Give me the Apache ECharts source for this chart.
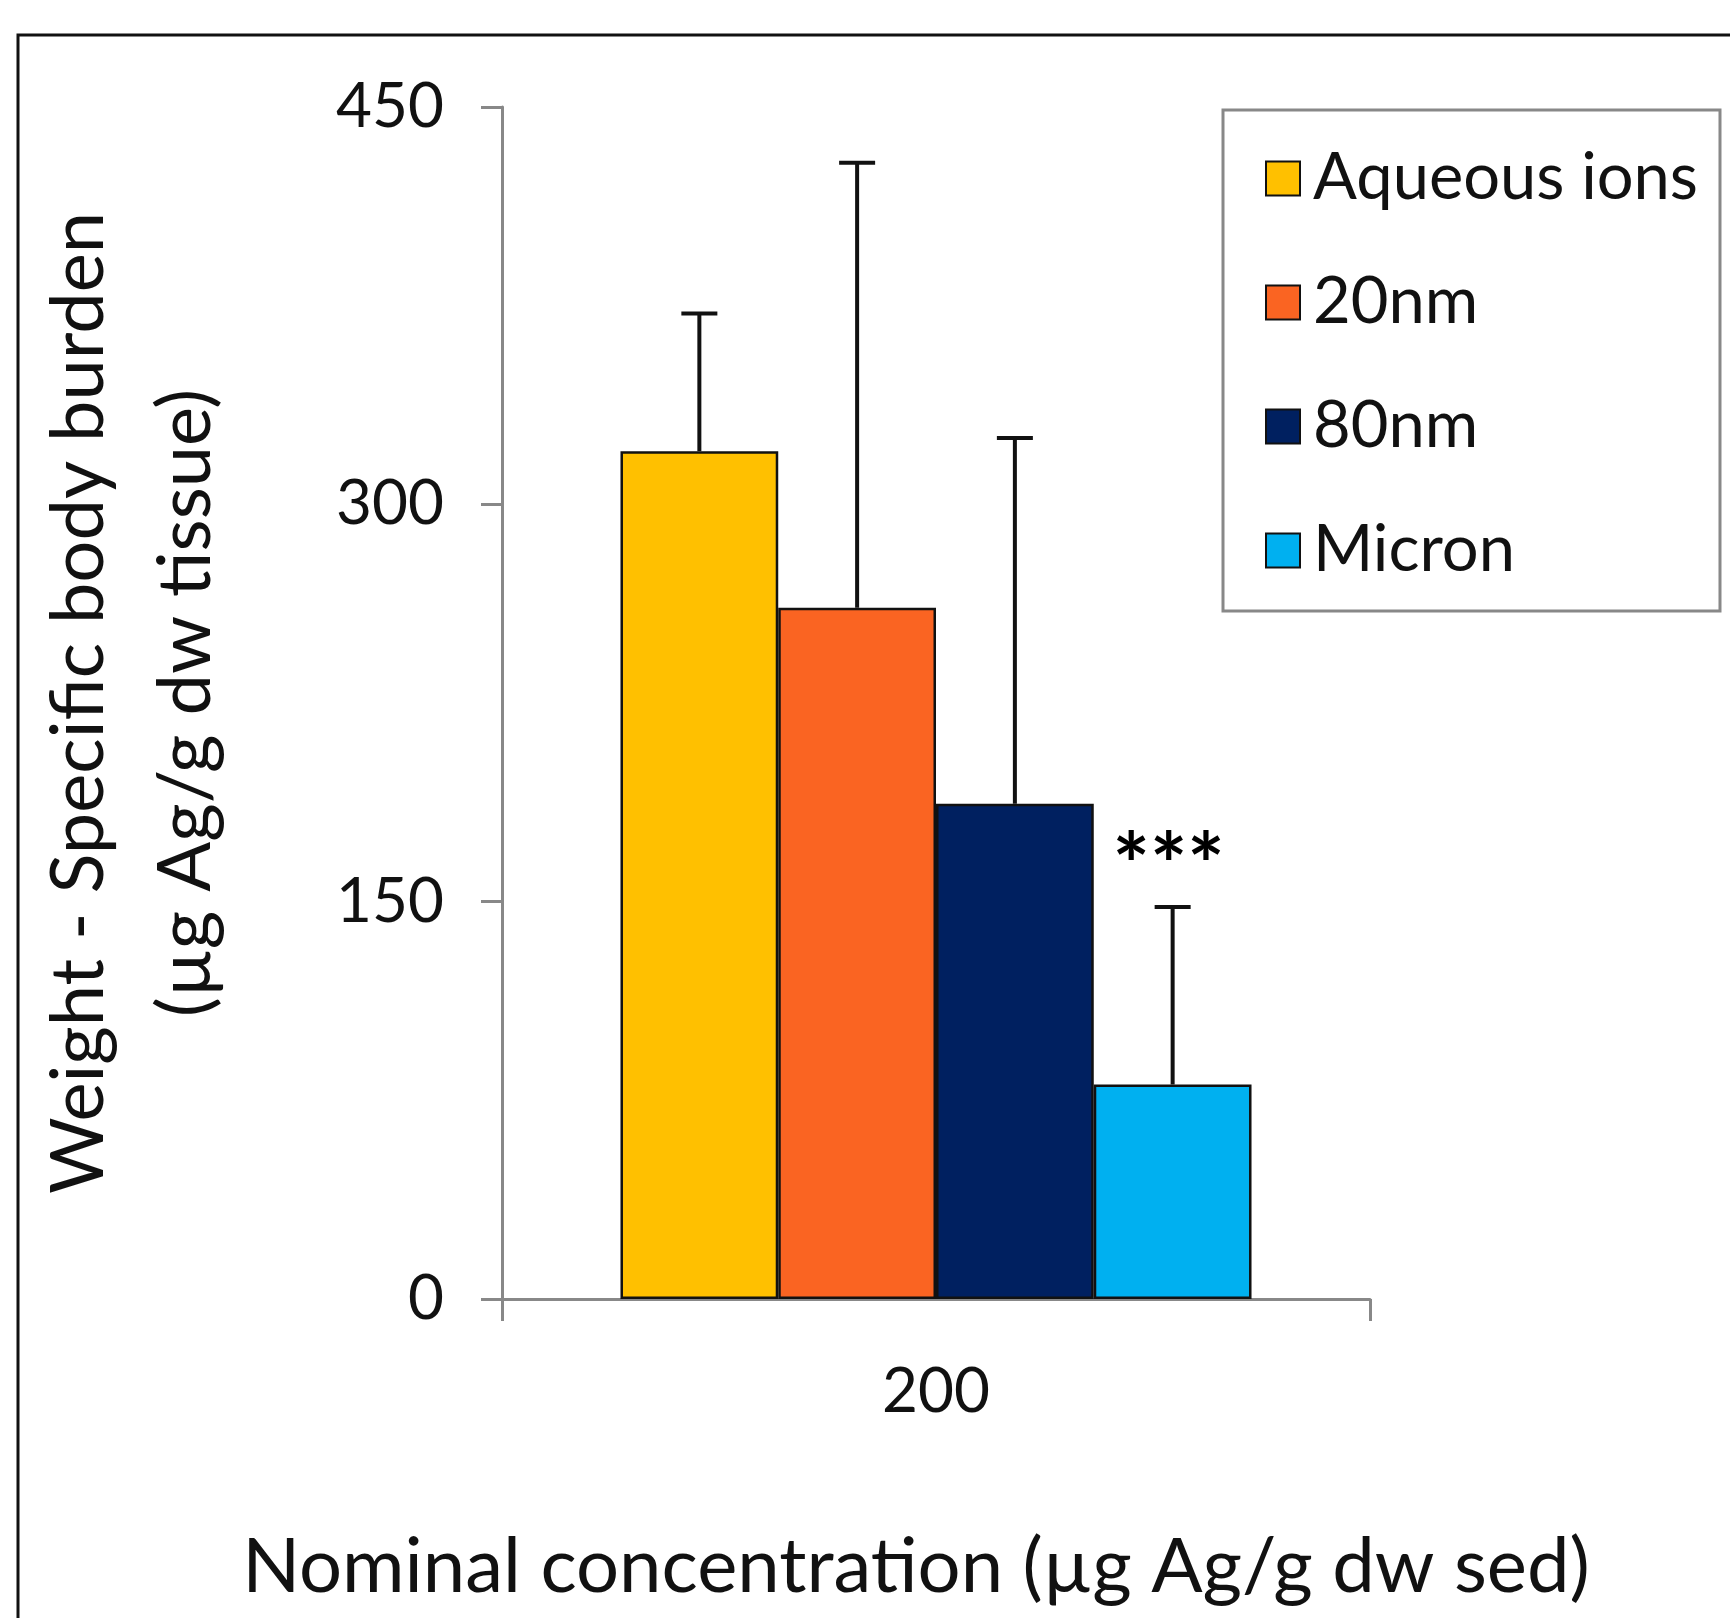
<!DOCTYPE html>
<html>
<head>
<meta charset="utf-8">
<script src="https://cdn.jsdelivr.net/npm/echarts@6/dist/echarts.min.js"></script>
<style>
html,body{margin:0;padding:0;background:#fff;}
#chart{width:1730px;height:1618px;}
</style>
</head>
<body>
<div id="chart"></div>
<script>
var categories = ['200'];
var seriesNames = ['Aqueous ions', '20nm', '80nm', 'Micron'];
var seriesColors = ['#FFC000', '#FA6422', '#002060', '#00B0F0'];
var meanValues = [320, 261, 187, 81];
var errorTops = [372, 429, 325, 148];
var annotations = ['', '', '', '***'];
var yTicks = [0, 150, 300, 450];

var FONT = 'Lato';
var BAR_CAT_GAP = 0.273;

var chart = echarts.init(document.getElementById('chart'), null, {renderer: 'canvas'});

var barSeries = seriesNames.map(function (name, i) {
  return {
    name: name,
    type: 'bar',
    barGap: '0%',
    barCategoryGap: (BAR_CAT_GAP * 100) + '%',
    data: [meanValues[i]],
    itemStyle: {color: seriesColors[i], borderColor: '#111', borderWidth: 2.5},
    emphasis: {disabled: true},
    z: 2
  };
});

var errData = seriesNames.map(function (n, i) {
  return [0, meanValues[i], errorTops[i], i];
});

var errSeries = {
  type: 'custom',
  name: 'error',
  data: errData,
  encode: {x: 0, y: 1},
  z: 5,
  silent: true,
  renderItem: function (params, api) {
    var cat = api.value(0), mean = api.value(1), top = api.value(2), idx = api.value(3);
    var band = api.size([1, 0])[0];
    var bw = band * (1 - BAR_CAT_GAP) / seriesNames.length;
    var c = api.coord([cat, mean]);
    var t = api.coord([cat, top]);
    var x = c[0] + (idx - (seriesNames.length - 1) / 2) * bw;
    var half = 18;
    var children = [
      {type: 'line', shape: {x1: x, y1: c[1], x2: x, y2: t[1]}, style: {stroke: '#111', lineWidth: 4}},
      {type: 'line', shape: {x1: x - half, y1: t[1], x2: x + half, y2: t[1]}, style: {stroke: '#111', lineWidth: 4}}
    ];
    var ann = annotations[idx];
    if (ann) {
      children.push({type: 'text', style: {text: ann, x: x - 4, y: t[1] - 38, textAlign: 'center', textVerticalAlign: 'middle', fontSize: 88, fontFamily: FONT, fontWeight: 'bold', fill: '#000'}});
    }
    return {type: 'group', children: children};
  }
};

var option = {
  animation: false,
  backgroundColor: '#fff',
  textStyle: {fontFamily: FONT},
  graphic: [{
    type: 'rect',
    shape: {x: 18, y: 35, width: 1800, height: 1700},
    style: {fill: 'none', stroke: '#111', lineWidth: 3},
    z: -10, silent: true
  }],
  legend: {
    data: seriesNames,
    orient: 'vertical',
    left: 1223,
    top: 110,
    padding: [36, 22, 28, 42],
    itemGap: 59,
    itemWidth: 34,
    itemHeight: 34,
    borderColor: '#888',
    borderWidth: 3,
    backgroundColor: '#fff',
    icon: 'rect',
    selectedMode: false,
    textStyle: {fontSize: 65, fontFamily: FONT, color: '#111', padding: [0, 0, 0, 8]}
  },
  grid: {left: 502, right: 360, top: 107, bottom: 319, containLabel: false},
  xAxis: {
    type: 'category',
    data: categories,
    axisLine: {lineStyle: {color: '#888', width: 3}},
    axisTick: {show: true, length: 22, lineStyle: {color: '#888', width: 3}},
    axisLabel: {fontSize: 62, color: '#111', margin: 62, fontFamily: FONT},
    name: 'Nominal concentration (µg Ag/g dw sed)',
    nameLocation: 'middle',
    nameGap: 230,
    nameTextStyle: {fontSize: 76, color: '#111', fontFamily: FONT, padding: [0, 40, 0, 0]}
  },
  yAxis: {
    type: 'value',
    min: 0,
    max: 450,
    interval: 150,
    splitLine: {show: false},
    axisLine: {show: true, lineStyle: {color: '#888', width: 3}},
    axisTick: {show: true, length: 21, lineStyle: {color: '#888', width: 3}},
    axisLabel: {fontSize: 62, color: '#111', margin: 58, fontFamily: FONT,
      formatter: function (v) { return yTicks.indexOf(v) >= 0 ? String(v) : ''; }},
    name: 'Weight - Specific body burden\n(µg Ag/g dw tissue)',
    nameLocation: 'middle',
    nameRotate: 90,
    nameGap: 262,
    nameTextStyle: {fontSize: 74, color: '#111', fontFamily: FONT, lineHeight: 107}
  },
  series: barSeries.concat([errSeries])
};
chart.setOption(option);
</script>
</body>
</html>
